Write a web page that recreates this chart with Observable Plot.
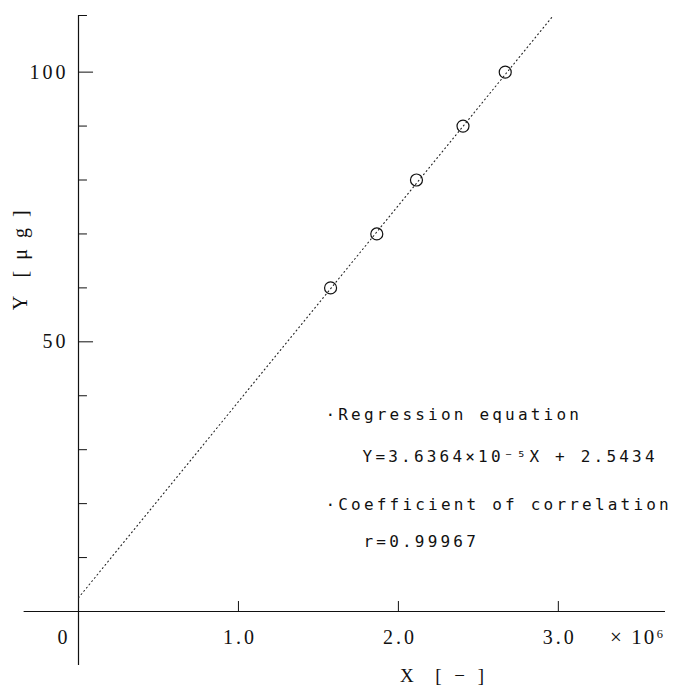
<!DOCTYPE html>
<html>
<head>
<meta charset="utf-8">
<script src="https://cdn.jsdelivr.net/npm/d3@7"></script>
<script src="https://cdn.jsdelivr.net/npm/@observablehq/plot@0.6"></script>
<style>
  body { margin: 0; background: #fff; }
</style>
</head>
<body>
<div id="chart"></div>
<script>
// Data points (X in units of 10^6, Y in µg)
const pointsX = [1.576, 1.865, 2.113, 2.404, 2.668];
const pointsY = [60, 70, 80, 90, 100];

// Regression: Y = 3.6364e-5 X + 2.5434  (X in 10^6 -> slope 36.364)
const slope = 36.364;
const intercept = 2.5434;

// Axes
const xTicks = [1, 2, 3];
const xTickLabels = ["1.0", "2.0", "3.0"];
const yTicksMinor = [10, 20, 30, 40, 60, 70, 80, 90];
const yTicksMajor = [50, 100];
const yTickLabels = ["50", "100"];
const xMin = -0.34, xMax = 3.67, yMin = -10, yMax = 110.5;

// Texts
const annotLines = [
  "·Regression equation",
  "Y=3.6364×10⁻⁵X + 2.5434",
  "·Coefficient of correlation",
  "r=0.99967"
];
const yLabel = "Y  [ μ g ]";
const xLabel = "X  [ − ]";
const xExponent = "× 10⁶";

const points = pointsX.map((x, i) => ({x, y: pointsY[i]}));
const lineEndX = (yMax - intercept) / slope;
const regression = [0, lineEndX].map(x => ({x, y: slope * x + intercept}));

const ink = "#111";
const serif = "'Liberation Serif', 'DejaVu Serif', serif";
const mono = "'DejaVu Sans Mono', 'Liberation Mono', monospace";

const chart = Plot.plot({
  width: 683,
  height: 685,
  marginLeft: 78,
  marginRight: 18,
  marginTop: 15,
  marginBottom: 74,
  x: {domain: [0, xMax], axis: null},
  y: {domain: [0, yMax], axis: null},
  style: {background: "#fff", color: ink},
  marks: [
    // axis lines
    Plot.ruleY([0], {x1: xMin, x2: xMax, stroke: ink, strokeWidth: 1.2}),
    Plot.ruleX([0], {y1: yMin, y2: yMax, stroke: ink, strokeWidth: 1.2}),
    // y ticks (pointing right)
    Plot.ruleY([yMax], {x1: 0, x2: 0.056, stroke: ink, strokeWidth: 1}),
    Plot.ruleY(yTicksMinor, {x1: 0, x2: 0.056, stroke: ink, strokeWidth: 1}),
    Plot.ruleY(yTicksMajor, {x1: 0, x2: 0.094, stroke: ink, strokeWidth: 1}),
    // x ticks (pointing up)
    Plot.ruleX(xTicks, {y1: 0, y2: 1.85, stroke: ink, strokeWidth: 1}),
    // tick labels
    Plot.text(yTicksMajor, {x: 0, y: d => d, text: (d, i) => yTickLabels[i], textAnchor: "end", dx: -10, fontSize: 20, fontFamily: serif, fill: ink, ariaDescription: "ticklabel"}),
    Plot.text(xTicks, {x: d => d, y: 0, text: (d, i) => xTickLabels[i], dy: 26, dx: 1.5, fontSize: 20, fontFamily: serif, fill: ink, ariaDescription: "ticklabel"}),
    Plot.text(["0"], {x: 0, y: 0, text: d => d, dx: -16, dy: 26, fontSize: 20, fontFamily: serif, fill: ink}),
    Plot.text([xExponent], {x: xMax, y: 0, text: d => d, textAnchor: "end", dy: 26, fontSize: 21, fontFamily: serif, fill: ink, ariaDescription: "exponent"}),
    // regression line
    Plot.line(regression, {x: "x", y: "y", stroke: "#222", strokeWidth: 1.1, strokeDasharray: "1 3.2"}),
    // points
    Plot.dot(points, {x: "x", y: "y", r: 6, stroke: ink, strokeWidth: 1.2, fill: "none"}),
    // annotations
    Plot.text([annotLines[0]], {x: 1.544, y: 36.5, text: d => d, textAnchor: "start", fontSize: 16, fontFamily: mono, fill: ink, ariaDescription: "annot"}),
    Plot.text([annotLines[1]], {x: 1.776, y: 28.7, text: d => d, textAnchor: "start", fontSize: 16, fontFamily: mono, fill: ink, ariaDescription: "annot"}),
    Plot.text([annotLines[2]], {x: 1.544, y: 19.8, text: d => d, textAnchor: "start", fontSize: 16, fontFamily: mono, fill: ink, ariaDescription: "annot"}),
    Plot.text([annotLines[3]], {x: 1.782, y: 13.0, text: d => d, textAnchor: "start", fontSize: 16, fontFamily: mono, fill: ink, ariaDescription: "annot"}),
    // axis titles
    Plot.text([yLabel], {x: -0.36, y: 65.4, text: d => d, rotate: -90, fontSize: 20, fontFamily: serif, fill: ink, ariaDescription: "ylabel"}),
    Plot.text([xLabel], {x: 2.285, y: -11.9, text: d => d, fontSize: 19, fontFamily: serif, fill: ink, ariaDescription: "xlabel"})
  ]
});
// letter spacing (fixed-pitch look of the original)
const spacing = {annot: "3.2px", ylabel: "3px", xlabel: "4px", ticklabel: "3px", exponent: "2px"};
d3.select(chart).selectAll("g[aria-description]").each(function() {
  const key = this.getAttribute("aria-description");
  if (spacing[key]) d3.select(this).selectAll("text").attr("letter-spacing", spacing[key]);
});
document.getElementById("chart").appendChild(chart);
</script>
</body>
</html>
